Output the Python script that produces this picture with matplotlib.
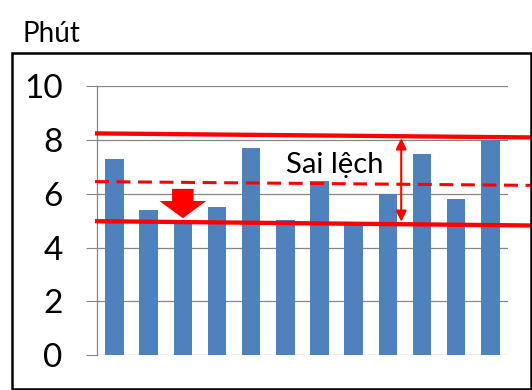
import matplotlib
matplotlib.use("Agg")
import matplotlib.pyplot as plt
from matplotlib.patches import Rectangle, FancyArrow

plt.rcParams['font.family'] = ['Lato', 'DejaVu Sans']
plt.rcParams['lines.scale_dashes'] = False

# data
categories = list(range(12))
values = [7.3, 5.4, 5.0, 5.5, 7.7, 5.02, 6.47, 4.85, 6.0, 7.48, 5.82, 8.0]
yticks = [0, 2, 4, 6, 8, 10]
ylabel = "Phút"
annot_text = "Sai lệch"

# annotation lines (x range, y start/end)
line_x = [-0.57, 12.2]
upper_y = [8.24, 8.09]
lower_y = [4.98, 4.82]
mean_y = [6.45, 6.31]

BLUE = "#4F81BD"
RED = "#FF0000"
GRID = "#868686"

fig = plt.figure(figsize=(5.32, 3.90), dpi=100)
ax = fig.add_axes([97.4/532, 1-355.3/390, (507.5-97.4)/532, (355.3-86)/390])

ax.bar(categories, values, width=0.54, color=BLUE, zorder=2)
ax.set_xlim(-0.5, 11.5)
ax.set_ylim(0, 10)
ax.set_yticks(yticks)
ax.set_yticklabels([str(t) for t in yticks], fontsize=24)
ax.set_xticks([])
ax.tick_params(axis='y', direction='out', length=8, width=0.8, color=GRID, pad=17)
ax.yaxis.grid(True, color=GRID, linewidth=0.9, zorder=0)
ax.set_axisbelow(True)
for s in ['top', 'right', 'bottom']:
    ax.spines[s].set_visible(False)
ax.spines['left'].set_color(GRID)
ax.spines['left'].set_linewidth(0.9)

# red lines
ax.plot(line_x, upper_y, color=RED, lw=3.1, clip_on=False, zorder=4, solid_capstyle='butt')
ax.plot(line_x, lower_y, color=RED, lw=3.1, clip_on=False, zorder=4, solid_capstyle='butt')
ax.plot(line_x, mean_y, color=RED, lw=2.2, linestyle=(0, (10, 5.5)), clip_on=False, zorder=4)

# double arrow
ax.annotate("", xy=(8.39, 8.06), xytext=(8.39, 4.96),
            arrowprops=dict(arrowstyle='<|-|>', color=RED, lw=1.5,
                            mutation_scale=16, shrinkA=0, shrinkB=0),
            zorder=5, annotation_clip=False)

# block arrow
ax.add_patch(FancyArrow(2.0, 6.18, 0, -(6.18-5.09), width=0.63, head_width=1.37,
                        head_length=0.64, length_includes_head=True,
                        color=RED, zorder=5, lw=0))

ax.text(5.01, 6.76, annot_text, fontsize=21, ha='left', va='baseline', zorder=6)

fig.text(22.5/532, 1-41.7/390, ylabel, fontsize=20, ha='left', va='baseline')

fig.add_artist(Rectangle((11.5/532, 1-388.5/390), (530.5-11.5)/532, (388.5-52.5)/390,
                         transform=fig.transFigure, fill=False, edgecolor='black',
                         linewidth=1.8, zorder=10))

fig.savefig("out.png", dpi=100)
